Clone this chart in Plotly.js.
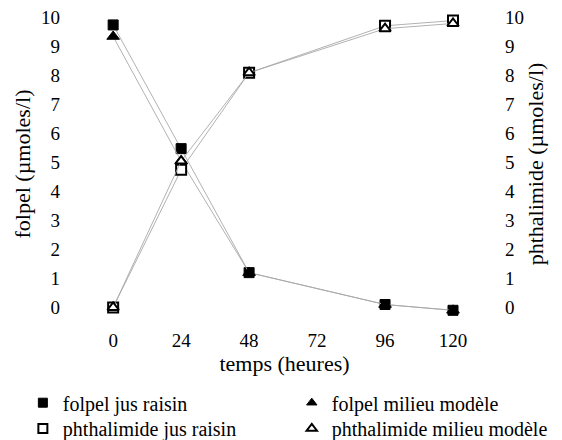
<!DOCTYPE html>
<html>
<head>
<meta charset="utf-8">
<script src="https://cdn.plot.ly/plotly-3.0.1.min.js"></script>
<style>html,body{margin:0;padding:0;background:#fff;}#chart{width:562px;height:440px;}</style>
</head>
<body>
<div id="chart"></div>
<script>
const hours = [0, 24, 48, 96, 120];
const xTickLabels = ['0', '24', '48', '72', '96', '120'];
const xTickVals = [0, 24, 48, 72, 96, 120];
const folpelJus = [9.75, 5.48, 1.2, 0.1, -0.1];
const folpelModele = [9.35, 5.05, 1.2, 0.1, -0.1];
const phthalJus = [0.0, 4.75, 8.1, 9.72, 9.9];
const phthalModele = [0.0, 5.05, 8.1, 9.62, 9.8];
const yTickVals = [0,1,2,3,4,5,6,7,8,9,10];
const seriesNames = ['folpel jus raisin', 'folpel milieu modèle', 'phthalimide jus raisin', 'phthalimide milieu modèle'];

const serif = 'Liberation Serif, Times New Roman, serif';
const lineStyle = {color: '#a8a8a8', width: 0.9};

const markers = [
  {symbol: 'square', size: 10, color: '#000', line: {color: '#000', width: 1}},
  {symbol: 'triangle-up', size: 11, color: '#000', line: {color: '#000', width: 1}},
  {symbol: 'square', size: 10, color: '#fff', line: {color: '#000', width: 2}},
  {symbol: 'triangle-up', size: 10, color: '#fff', line: {color: '#000', width: 2}}
];
const seriesY = [folpelJus, folpelModele, phthalJus, phthalModele];
const axes = ['y', 'y', 'y2', 'y2'];
const legendIds = ['legend', 'legend2', 'legend3', 'legend4'];

const traces = [];
seriesY.forEach((ys, i) => {
  traces.push({x: hours, y: ys, name: seriesNames[i], mode: 'lines+markers', line: lineStyle,
    yaxis: axes[i], marker: markers[i], showlegend: false});
});
seriesY.forEach((ys, i) => {
  traces.push({x: [null], y: [null], name: seriesNames[i], mode: 'markers', yaxis: axes[i],
    marker: Object.assign({}, markers[i], {size: 9}), legend: legendIds[i], showlegend: true});
});

const legendBase = {xanchor: 'left', yanchor: 'middle', font: {family: serif, size: 20, color: '#000'},
  bgcolor: 'rgba(0,0,0,0)', itemwidth: 30};
const col1 = -0.146, col2 = 0.518, row1 = -0.27, row2 = -0.353;

const layout = {
  width: 562, height: 440,
  margin: {l: 82, r: 75, t: 9, b: 121, autoexpand: false},
  paper_bgcolor: '#fff', plot_bgcolor: '#fff',
  font: {family: serif, size: 19, color: '#000'},
  showlegend: true,
  xaxis: {range: [-11, 132], tickvals: xTickVals, ticktext: xTickLabels, showgrid: false, zeroline: false,
    showline: false, ticks: '', ticklabelstandoff: 8,
    title: {text: 'temps (heures)', font: {family: serif, size: 22}, standoff: 0}},
  yaxis: {range: [-0.4, 10.3], tickvals: yTickVals, showgrid: false, zeroline: false, showline: false, ticks: '',
    ticklabelstandoff: 21, title: {text: 'folpel (µmoles/l)', font: {family: serif, size: 22}, standoff: 4}},
  yaxis2: {range: [-0.4, 10.3], tickvals: yTickVals, overlaying: 'y', side: 'right', showgrid: false, zeroline: false,
    showline: false, ticks: '', ticklabelstandoff: 17,
    title: {text: 'phthalimide (µmoles/l)', font: {family: serif, size: 22}, standoff: 4}},
  legend: Object.assign({}, legendBase, {x: col1, y: row1}),
  legend2: Object.assign({}, legendBase, {x: col2, y: row1}),
  legend3: Object.assign({}, legendBase, {x: col1, y: row2}),
  legend4: Object.assign({}, legendBase, {x: col2, y: row2})
};

Plotly.newPlot('chart', traces, layout, {displayModeBar: false, staticPlot: true});
</script>
</body>
</html>
